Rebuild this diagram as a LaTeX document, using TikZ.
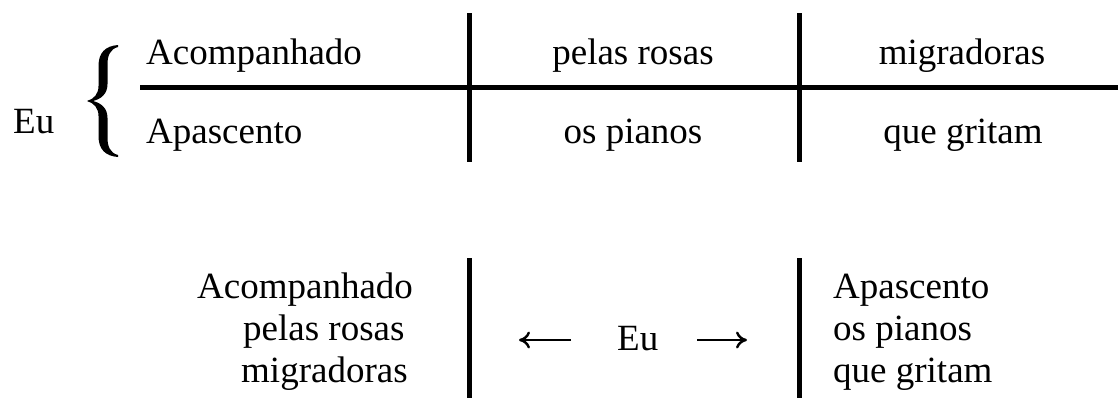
\documentclass[tikz,border=0pt]{standalone}
\usepackage{fontspec}
\setmainfont{Liberation Serif}
\usetikzlibrary{arrows.meta}
\tikzset{
  txt/.style={inner sep=0pt, font=\fontsize{37bp}{44bp}\selectfont},
  rule/.style={line width=5bp, line cap=butt},
  arr/.style={line width=2.4bp, -{Computer Modern Rightarrow[length=11bp,width=17bp,line width=2.4bp]}},
  bracefill/.style={fill=black, draw=none},
}
\begin{document}
\begin{tikzpicture}[x=1bp,y=-1bp]
\useasboundingbox (0,0) rectangle (1118,398);
% ---- top part ----
\node[txt, anchor=base west] (eu1) at (13,133) {Eu};
\fill[bracefill] (118,45) .. controls (105,46) and (98.5,53) .. (98.5,66) -- (98.5,86)
  .. controls (98.5,94) and (94,99) .. (87,101)
  .. controls (94,103) and (98.5,108) .. (98.5,116) -- (98.5,136)
  .. controls (98.5,149) and (105,156) .. (118,157) -- (118,155)
  .. controls (110,153) and (107.5,146) .. (107.5,138) -- (107.5,118)
  .. controls (107.5,108) and (101,103) .. (93,101)
  .. controls (101,99) and (107.5,94) .. (107.5,84) -- (107.5,64)
  .. controls (107.5,56) and (110,49) .. (118,47) -- cycle;
\node[txt, anchor=base west] (a1) at (146,64) {Acompanhado};
\node[txt, anchor=base] (a2) at (633,64) {pelas rosas};
\node[txt, anchor=base] (a3) at (962,64) {migradoras};
\node[txt, anchor=base west] (b1) at (146,143) {Apascento};
\node[txt, anchor=base] (b2) at (633,143) {os pianos};
\node[txt, anchor=base] (b3) at (963,143) {que gritam};
\coordinate (hl) at (140,87.5);
\coordinate (hr) at (1118,87.5);
\coordinate (v1t) at (469,13);
\coordinate (v1b) at (469,162);
\coordinate (v2t) at (799.5,13);
\coordinate (v2b) at (799.5,162);
\draw[rule] (hl) -- (hr);
\draw[rule] (v1t) -- (v1b);
\draw[rule] (v2t) -- (v2b);
% ---- bottom part ----
\node[txt, anchor=base west] (c1) at (197,298) {Acompanhado};
\node[txt, anchor=base west] (c2) at (243,340) {pelas rosas};
\node[txt, anchor=base west] (c3) at (241,382) {migradoras};
\node[txt, anchor=base west] (d1) at (833,298) {Apascento};
\node[txt, anchor=base west] (d2) at (833,340) {os pianos};
\node[txt, anchor=base west] (d3) at (833,382) {que gritam};
\node[txt, anchor=base west] (eu2) at (617,350) {Eu};
\coordinate (bl1) at (469,258);
\coordinate (bl2) at (469,398);
\coordinate (br1) at (799.5,258);
\coordinate (br2) at (799.5,398);
\draw[rule] (bl1) -- (bl2);
\draw[rule] (br1) -- (br2);
\coordinate (ls) at (571,340);
\coordinate (le) at (519,340);
\coordinate (rs) at (697,340);
\coordinate (re) at (747,340);
\draw[arr] (ls) -- (le);
\draw[arr] (rs) -- (re);
\end{tikzpicture}
\end{document}
